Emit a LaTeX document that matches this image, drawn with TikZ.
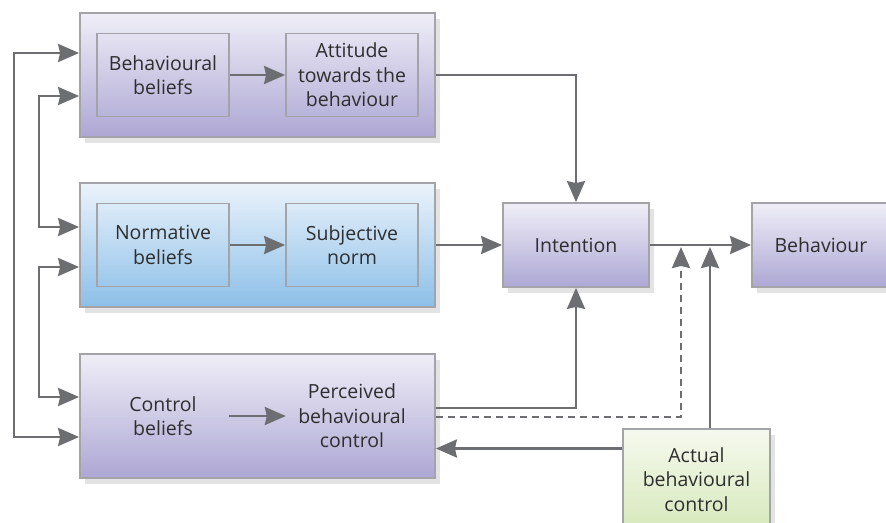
\documentclass[tikz,border=0pt]{standalone}
\usepackage{fontspec}
\setmainfont{Open Sans}
\usetikzlibrary{arrows.meta,shadows,positioning}

\definecolor{lavtop}{HTML}{EFEEF7}
\definecolor{lavbot}{HTML}{ADA7D4}
\definecolor{bluetop}{HTML}{EBF3FB}
\definecolor{bluebot}{HTML}{8CBFE8}
\definecolor{greentop}{HTML}{F6F9EE}
\definecolor{greenbot}{HTML}{D6E9BC}
\definecolor{edge}{HTML}{A4A4A8}
\definecolor{wire}{HTML}{6D6E71}
\definecolor{ink}{HTML}{2E2E2E}

\begin{document}
\begin{tikzpicture}[x=1pt,y=-1pt,>={Stealth[length=21pt,width=18pt,inset=2pt]},
    every node/.style={font=\fontsize{19.5}{24.5}\selectfont, text=ink, align=center},
    shade/.style={drop shadow={opacity=0.22,shadow xshift=5pt,shadow yshift=-6pt}},
    panel/.style={draw=edge, line width=1.8pt, minimum width=355pt, minimum height=124pt, shade, top color=lavtop, bottom color=lavbot},
    box/.style={draw=edge, line width=1.8pt, minimum width=146pt, minimum height=84pt, shade, top color=lavtop, bottom color=lavbot},
    inner/.style={draw=edge, line width=1.8pt, minimum width=132pt, minimum height=83pt, inner sep=0pt},
    ghost/.style={minimum width=132pt, minimum height=83pt, inner sep=0pt},
    link/.style={draw=wire, line width=2.6pt}]
    \useasboundingbox (0,0) rectangle (886,522);

    % the three left panels
    \node[panel] (p1) at (257.5,75) {};
    \node[panel, top color=bluetop, bottom color=bluebot] (p2) at (257.5,245) {};
    \node[panel] (p3) at (257.5,416) {};

    \node[inner] (bb) at (163,75) {Behavioural\\beliefs};
    \node[inner] (att) at (352,75) {Attitude\\towards the\\behaviour};
    \node[inner] (nb) at (163,245) {Normative\\beliefs};
    \node[inner] (sn) at (352,245) {Subjective\\norm};
    \node[ghost] (cb) at (163,416) {Control\\beliefs};
    \node[ghost] (pbc) at (352,416) {Perceived\\behavioural\\control};

    \draw[link,->] (bb) -- (att);
    \draw[link,->] (nb) -- (sn);
    \draw[link,->] (cb) -- (pbc);

    % right hand side
    \node[box] (int) at (576,245) {Intention};
    \node[box, minimum width=138pt] (beh) at (821,245) {Behaviour};
    \node[box, minimum width=147pt, minimum height=101pt, top color=greentop, bottom color=greenbot] (act) at (696.5,479.5) {Actual\\behavioural\\control};

    \coordinate (j1) at (681,247);
    \coordinate (j2) at (710,247);

    \draw[link,->] (p1.east) -| (int.north);
    \draw[link,->] (p2.east) -- (int.west);
    \draw[link,->] ([yshift=8pt]p3.east) -| (int.south);
    \draw[link,->,dash pattern=on 7pt off 5pt] ([yshift=-1pt]p3.east) -| (j1);
    \draw[link,->] (act.north -| j2) -- (j2);
    \draw[link,->] (int.east) -- (beh.west);
    \draw[link,->] ([yshift=31pt]act.west) -- ([yshift=31pt]act.west -| p3.east);

    % feedback lines on the left
    \draw[link,<->] ([yshift=22pt]p1.west) -- ++(-65,0) |- ([yshift=-21pt]p3.west);
    \draw[link,<->] ([yshift=-21pt]p1.west) -- ++(-40,0) |- ([yshift=18pt]p2.west);
    \draw[link,<->] ([yshift=-22pt]p2.west) -- ++(-40,0) |- ([yshift=19pt]p3.west);
\end{tikzpicture}
\end{document}
